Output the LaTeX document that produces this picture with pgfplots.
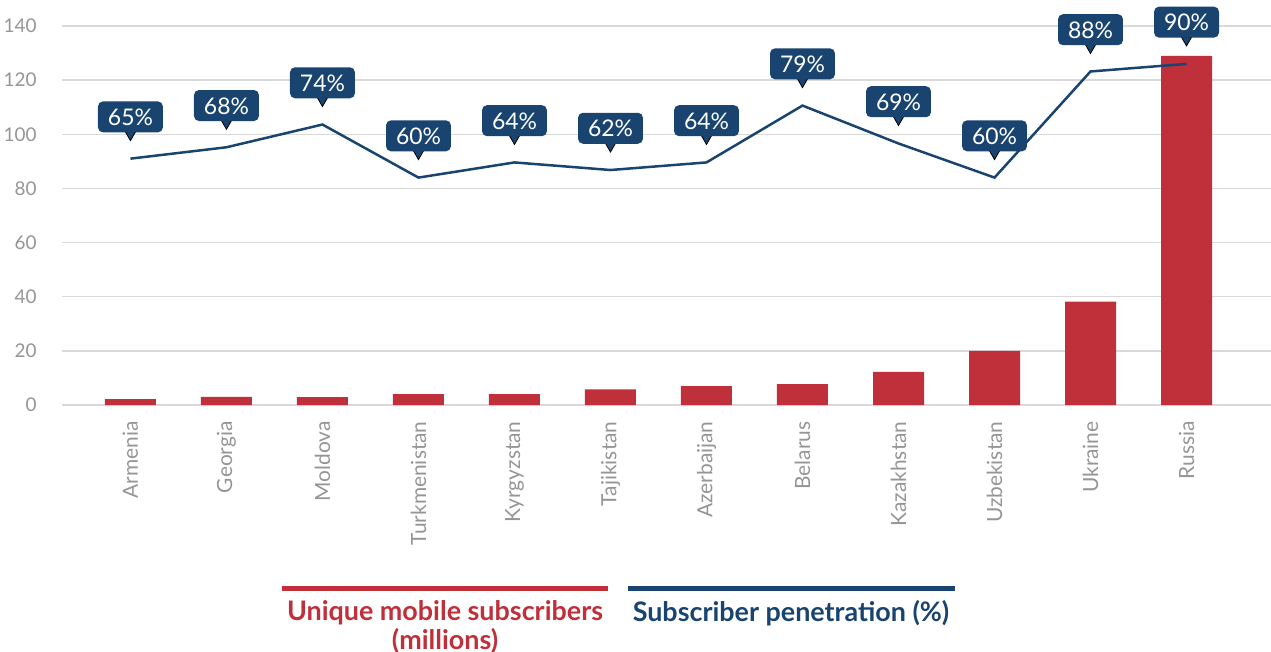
\documentclass[border=0pt]{standalone}
\usepackage{pgfplots}
\pgfplotsset{compat=1.18}
\usepackage{fontspec}
\setmainfont{Lato}
\definecolor{barred}{HTML}{C0303A}
\definecolor{pblue}{HTML}{1A4470}
\definecolor{gridgray}{HTML}{D9D9D9}
\definecolor{ticktext}{HTML}{959595}
\begin{document}
\begin{tikzpicture}
\begin{axis}[
  at={(0,0)}, anchor=south west,
  scale only axis, width=604.5bp, height=189.5bp,
  xmin=-0.713, xmax=11.88, ymin=0, ymax=140,
  ytick={0,20,...,140},
  xtick={0,...,11},
  xticklabels={Armenia,Georgia,Moldova,Turkmenistan,Kyrgyzstan,Tajikistan,Azerbaijan,Belarus,Kazakhstan,Uzbekistan,Ukraine,Russia},
  axis line style={draw=none},
  major tick length=0pt,
  ymajorgrids, xmajorgrids=false,
  major grid style={gridgray, line width=0.75bp},
  /pgf/number format/assume math mode=true,
  yticklabel style={text=ticktext, inner sep=0pt, anchor=east, xshift=-12.5bp, font=\fontsize{9.5}{11}\selectfont},
  xticklabel style={text=ticktext, inner sep=0pt, rotate=90, anchor=east, font=\fontsize{10.5}{12}\selectfont},
  xticklabel shift=8bp,
  clip=false,
]
\addplot[ybar, bar width=25.5bp, fill=barred, draw=none] coordinates {
  (0,2.2) (1,3.0) (2,2.9) (3,4.0) (4,4.0) (5,5.8) (6,7.0) (7,7.7) (8,12.2) (9,20.0) (10,38.2) (11,129.0)
};
\end{axis}
\begin{axis}[
  at={(0,0)}, anchor=south west,
  scale only axis, width=604.5bp, height=189.5bp,
  xmin=-0.713, xmax=11.88, ymin=0, ymax=100,
  hide axis, clip=false,
  /pgf/number format/assume math mode=true,
]
\addplot[only marks, mark=triangle*, mark size=3bp,
  mark options={fill=pblue, draw=none, yshift=12bp, rotate=180}] coordinates {
  (0,65) (1,68) (2,74) (3,60) (4,64) (5,62) (6,64) (7,79) (8,69) (9,60) (10,88) (11,90)
};
\addplot[pblue, line width=1.25bp, sharp plot, mark=none,
  nodes near coords={\pgfmathprintnumber{\pgfplotspointmeta}\%},
  every node near coord/.append style={anchor=south, yshift=12.5bp, fill=pblue, text=white,
    rounded corners=2.5bp, inner xsep=5bp, inner ysep=0pt, text height=8.5bp, text depth=0pt,
    minimum height=15.5bp, font=\fontsize{11.5}{13}\selectfont},
] coordinates {
  (0,65) (1,68) (2,74) (3,60) (4,64) (5,62) (6,64) (7,79) (8,69) (9,60) (10,88) (11,90)
};
\end{axis}
\draw[barred, line width=2.5bp] (110bp,-91.5bp) -- (273bp,-91.5bp);
\draw[pblue, line width=2.5bp] (283bp,-91.5bp) -- (446.5bp,-91.5bp);
\node[text=barred, font=\bfseries\fontsize{13.5}{14.5}\selectfont, align=center, anchor=north, inner sep=0pt] at (191.5bp,-97.5bp) {Unique mobile subscribers\\(millions)};
\node[text=pblue, font=\bfseries\fontsize{13.5}{14.5}\selectfont, align=center, anchor=north, inner sep=0pt] at (364.5bp,-97.5bp) {Subscriber penetration (\%)};
\pgfresetboundingbox
\path[use as bounding box] (-31bp,-123.5bp) rectangle (604.5bp,202.5bp);
\end{tikzpicture}
\end{document}
